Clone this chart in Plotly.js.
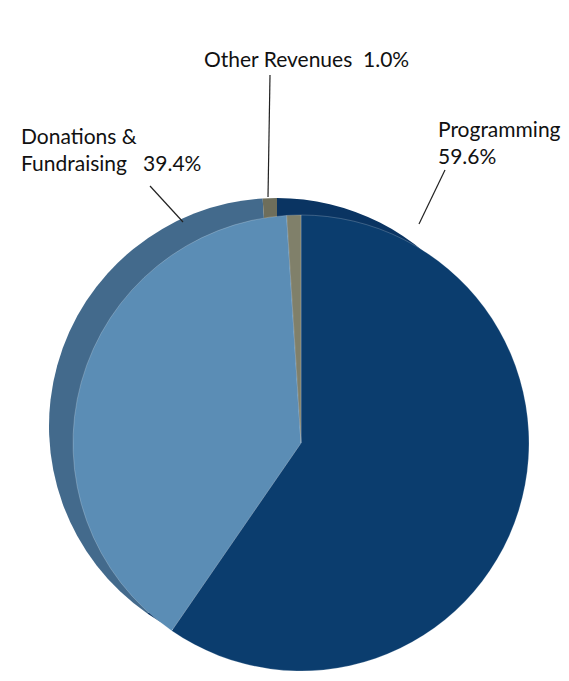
<!DOCTYPE html>
<html>
<head>
<meta charset="utf-8">
<script src="https://cdn.plot.ly/plotly-3.0.1.min.js"></script>
<style>html,body{margin:0;padding:0;background:#fff;}#chart{width:569px;height:681px;}</style>
</head>
<body>
<div id="chart"></div>
<script>
// ---- data ----
var categories = ['Programming', 'Donations & Fundraising', 'Other Revenues'];
var values = [59.6, 39.4, 1.0];
var labelText = ['Programming<br>', 'Donations &amp;<br>Fundraising\u00a0\u00a0\u00a0', 'Other Revenues\u00a0\u00a0'];
var faceColors = ['#0B3D6E', '#5B8DB5', '#80806A'];
var wallColors = ['#0A3462', '#436A8C', '#6E6E5B'];

// ---- layout helpers (pixel -> paper) ----
var W = 569, H = 681;
function px(x) { return x / W; }
function py(y) { return 1 - y / H; }
function dom(cx, cy, r) {
  return { x: [px(cx - r), px(cx + r)], y: [py(cy + r), py(cy - r)] };
}
var R = 228, CX = 301, CY = 443, DX = -24, DY = -17;

var common = {
  type: 'pie', labels: categories, values: values, sort: false,
  direction: 'clockwise', rotation: 0, textinfo: 'none', hoverinfo: 'label+percent',
  showlegend: false
};
var back = Object.assign({}, common, {
  domain: dom(CX + DX, CY + DY, R),
  marker: { colors: wallColors, line: { width: 0 } }
});
var front = Object.assign({}, common, {
  domain: dom(CX, CY, R),
  marker: { colors: faceColors, line: { color: 'rgba(255,255,255,0.35)', width: 0.6 } }
});

var fnt = { family: 'Lato, "Open Sans", sans-serif', size: 21, color: '#111' };
var pct = values.map(function (v) { return v.toFixed(1) + '%'; });
var annotations = [
  { x: px(436), y: py(142), text: labelText[0] + pct[0] },
  { x: px(19), y: py(149), text: labelText[1] + pct[1] },
  { x: px(202), y: py(58), text: labelText[2] + pct[2] }
].map(function (a) {
  return Object.assign(a, { xref: 'paper', yref: 'paper', xanchor: 'left', yanchor: 'middle',
    align: 'left', showarrow: false, font: fnt });
});
function seg(x0, y0, x1, y1) {
  return { type: 'line', xref: 'paper', yref: 'paper', x0: px(x0), y0: py(y0), x1: px(x1), y1: py(y1),
    line: { color: '#222', width: 1.2 } };
}
var shapes = [seg(445, 170, 419, 224), seg(150, 186, 183, 222), seg(270, 75, 268, 197)];

Plotly.newPlot('chart', [back, front], {
  width: W, height: H, margin: { l: 0, r: 0, t: 0, b: 0 },
  paper_bgcolor: '#fff', plot_bgcolor: '#fff',
  annotations: annotations, shapes: shapes
}, { displayModeBar: false, staticPlot: true });
</script>
</body>
</html>
